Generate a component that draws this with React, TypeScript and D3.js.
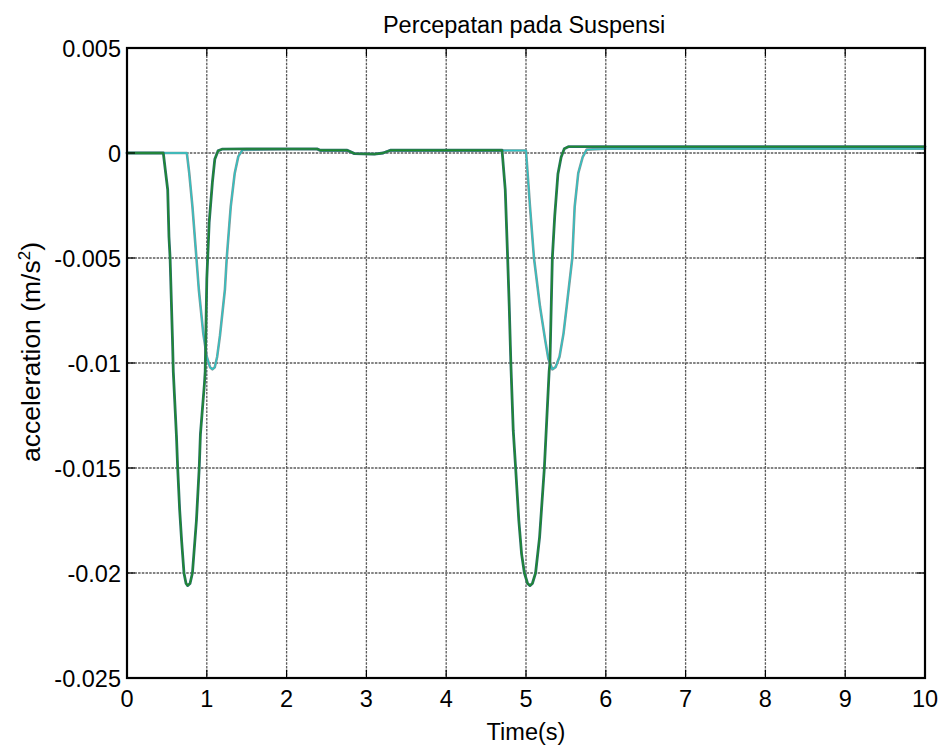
import React from "react";
import * as d3 from "d3";

const W = 944;
const H = 748;
const M = { left: 127, right: 925, top: 48, bottom: 678 };

const title = "Percepatan pada Suspensi";
const xLabel = "Time(s)";
const xTicks = [0, 1, 2, 3, 4, 5, 6, 7, 8, 9, 10];
const xTickLabels = ["0", "1", "2", "3", "4", "5", "6", "7", "8", "9", "10"];
const yTicks = [0.005, 0, -0.005, -0.01, -0.015, -0.02, -0.025];
const yTickLabels = ["0.005", "0", "-0.005", "-0.01", "-0.015", "-0.02", "-0.025"];

// deep-pulse series (green / dark teal)
const timeDeep = [
  0, 0.455, 0.48, 0.51, 0.526, 0.54, 0.57, 0.58, 0.62, 0.635, 0.66, 0.685, 0.714, 0.74, 0.76,
  0.79, 0.82, 0.87, 0.905, 0.92, 0.97, 0.98, 1.0, 1.03, 1.07, 1.1, 1.14, 1.19, 1.5, 2.0, 2.38,
  2.42, 2.76, 2.85, 3.1, 3.21, 3.3, 4.0, 4.7, 4.74, 4.77, 4.79, 4.81, 4.84, 4.87, 4.91, 4.945,
  4.98, 5.02, 5.05, 5.08, 5.12, 5.17, 5.23, 5.26, 5.29, 5.3, 5.33, 5.36, 5.4, 5.44, 5.48, 5.53,
  6, 7, 8, 9, 10,
];
const accelGreen = [
  0, 0, -0.0008, -0.00175, -0.004, -0.005, -0.0089, -0.0104, -0.0135, -0.015, -0.017, -0.0185,
  -0.02, -0.0205, -0.0206, -0.0205, -0.02, -0.0175, -0.015, -0.0134, -0.011, -0.0104, -0.006,
  -0.0033, -0.0014, -0.0003, 0.0001, 0.00018, 0.0002, 0.0002, 0.0002, 0.00013, 0.00013,
  -0.00003, -0.00005, 0.0, 0.00013, 0.00013, 0.00013, -0.00175, -0.005, -0.0073, -0.01,
  -0.0132, -0.015, -0.0175, -0.0191, -0.02, -0.0205, -0.0206, -0.0205, -0.02, -0.0183, -0.015,
  -0.0127, -0.0104, -0.01, -0.005, -0.003, -0.001, -0.0002, 0.0002, 0.0003, 0.0003, 0.0003,
  0.0003, 0.0003, 0.0003,
];
const accelTeal = accelGreen.slice();

// shallow-pulse series (cyan / grey)
const timeShallow = [
  0, 0.75, 0.78, 0.82, 0.87, 0.9, 0.956, 1.0, 1.04, 1.07, 1.1, 1.13, 1.165, 1.227, 1.25, 1.3,
  1.35, 1.395, 1.45, 2.0, 2.38, 2.42, 2.76, 2.85, 3.1, 3.21, 3.3, 4.0, 5.0, 5.05, 5.1, 5.175,
  5.24, 5.28, 5.33, 5.37, 5.42, 5.47, 5.51, 5.58, 5.61, 5.655, 5.71, 5.76, 6, 7, 8, 9, 10,
];
const accelCyan = [
  0, 0, -0.00096, -0.00255, -0.005, -0.0065, -0.0086, -0.0097, -0.0102, -0.0103, -0.0102,
  -0.0097, -0.0087, -0.0065, -0.005, -0.00255, -0.00096, -0.00016, 0.00015, 0.00018, 0.00018,
  0.00012, 0.00012, -0.00003, -0.00005, 0.0, 0.00012, 0.00012, 0.00012, -0.00255, -0.005,
  -0.0073, -0.0089, -0.0098, -0.0103, -0.0102, -0.0097, -0.0086, -0.0073, -0.005, -0.00255,
  -0.00096, -0.0002, 0.00016, 0.0002, 0.0002, 0.0002, 0.0002, 0.0002,
];
const accelGrey = accelCyan.slice();

const FONT = "'Liberation Sans', Arial, Helvetica, sans-serif";

export default function App() {
  const x = d3.scaleLinear().domain([0, 10]).range([M.left, M.right]);
  const y = d3.scaleLinear().domain([-0.025, 0.005]).range([M.bottom, M.top]);

  const mk = (ts: number[], vs: number[]) =>
    d3
      .line<number>()
      .x((_, i) => x(ts[i]))
      .y((v) => y(v))
      .curve(d3.curveLinear)(vs) || "";

  const series = [
    { d: mk(timeShallow, accelGrey), color: "#7f9a9a", w: 2.6 },
    { d: mk(timeShallow, accelCyan), color: "#2ec4c4", w: 1.3 },
    { d: mk(timeDeep, accelTeal), color: "#2a6f68", w: 2.8 },
    { d: mk(timeDeep, accelGreen), color: "#1f8c2c", w: 1.3 },
  ];

  const tickLen = 8;
  const fs = 23.5;

  return (
    <svg
      width={W}
      height={H}
      style={{ position: "absolute", left: 0, top: 0, background: "#fff" }}
      fontFamily={FONT}
    >
      <rect x={0} y={0} width={W} height={H} fill="#fff" />
      {/* grid */}
      <g stroke="#4a4a4a" strokeWidth={1.3} strokeDasharray="2.5,1.2" opacity={0.9}>
        {xTicks.slice(1, -1).map((t) => (
          <line key={"gx" + t} x1={x(t)} x2={x(t)} y1={M.top} y2={M.bottom} />
        ))}
        {yTicks.slice(1, -1).map((t) => (
          <line key={"gy" + t} x1={M.left} x2={M.right} y1={y(t)} y2={y(t)} />
        ))}
      </g>
      {/* data */}
      <g fill="none" strokeLinejoin="round" strokeLinecap="round">
        {series.map((s, i) => (
          <path key={i} d={s.d} stroke={s.color} strokeWidth={s.w} />
        ))}
      </g>
      {/* ticks */}
      <g stroke="#000" strokeWidth={1.2}>
        {xTicks.map((t) => (
          <g key={"tx" + t}>
            <line x1={x(t)} x2={x(t)} y1={M.bottom} y2={M.bottom - tickLen} />
            <line x1={x(t)} x2={x(t)} y1={M.top} y2={M.top + tickLen} />
          </g>
        ))}
        {yTicks.map((t) => (
          <g key={"ty" + t}>
            <line x1={M.left} x2={M.left + tickLen} y1={y(t)} y2={y(t)} />
            <line x1={M.right} x2={M.right - tickLen} y1={y(t)} y2={y(t)} />
          </g>
        ))}
      </g>
      {/* box */}
      <rect
        x={M.left}
        y={M.top}
        width={M.right - M.left}
        height={M.bottom - M.top}
        fill="none"
        stroke="#000"
        strokeWidth={2.2}
      />
      {/* tick labels */}
      <g fontSize={fs} fill="#000">
        {xTicks.map((t, i) => (
          <text key={"lx" + t} x={x(t)} y={M.bottom + 29} textAnchor="middle">
            {xTickLabels[i]}
          </text>
        ))}
        {yTicks.map((t, i) => (
          <text key={"ly" + t} x={M.left - 6} y={y(t) + 9} textAnchor="end">
            {yTickLabels[i]}
          </text>
        ))}
      </g>
      <text x={(M.left + M.right) / 2 - 2} y={33} textAnchor="middle" fontSize={fs} fill="#000">
        {title}
      </text>
      <text x={(M.left + M.right) / 2} y={740} textAnchor="middle" fontSize={fs} fill="#000">
        {xLabel}
      </text>
      <text
        transform={`translate(40, 352) rotate(-90)`}
        textAnchor="middle"
        fontSize={26.5}
        fill="#000"
      >
        acceleration (m/s
        <tspan fontSize={17} dy={-10}>
          2
        </tspan>
        <tspan dy={10}>)</tspan>
      </text>
    </svg>
  );
}
